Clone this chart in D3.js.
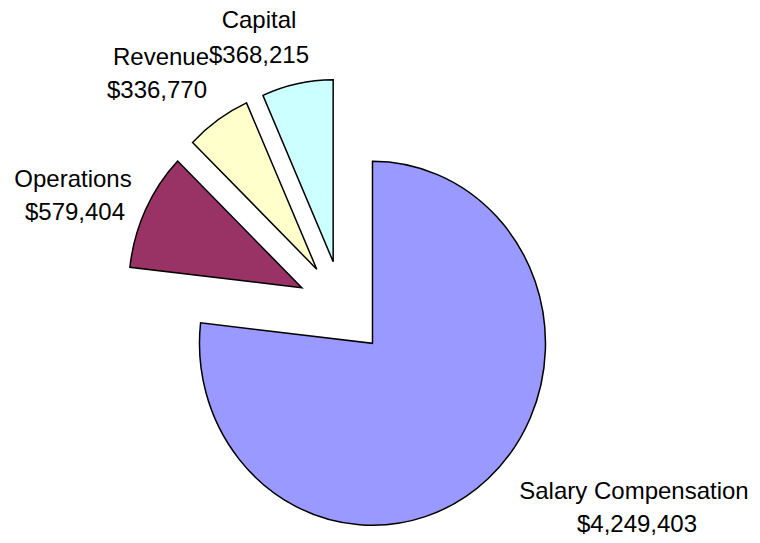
<!DOCTYPE html>
<html>
<head>
<meta charset="utf-8">
<script src="https://cdn.jsdelivr.net/npm/d3@7"></script>
<style>
    body { margin: 0; background: #fff; }
    text { font-family: Arial, "Liberation Sans", sans-serif; font-size: 24px; fill: #000; }
</style>
</head>
<body>
<svg id="chart" width="760" height="543"></svg>
<script>
// chart data
const categories = ["Salary Compensation", "Operations", "Revenue", "Capital"]
const amounts = [4249403, 579404, 336770, 368215]
const colors = ["#9999FF", "#993366", "#FFFFCC", "#CCFFFF"]

// label boxes (centre x of each line, first baseline), placed like the original
const labelPos = {
    "Salary Compensation": [[634, 499], [637, 532]],
    "Operations": [[73, 187], [75, 220]],
    "Revenue": [[161, 65], [157, 98]],
    "Capital": [[259, 28], [259, 63]]
}

const cx = 342.5, cy = 308
const rx = 173, ry = 182
const explode = 45

const svg = d3.select("#chart")

const rows = categories.map((c, i) => ({name: c, value: amounts[i], color: colors[i]}))

const pie = d3.pie()
    .sort(null)
    .value(d => d.value)

const arc = d3.arc()
    .innerRadius(0)
    .outerRadius(rx)

const money = d3.format("$,")

let pieGroup = svg.append("g")
    .attr("transform", "translate(" + cx + "," + cy + ") scale(1," + (ry / rx) + ")")

pieGroup.selectAll("path")
    .data(pie(rows))
    .join("path")
    .attr("d", arc)
    .attr("fill", d => d.data.color)
    .attr("stroke", "#000")
    .attr("stroke-width", 1.5)
    .attr("stroke-linejoin", "miter")
    .attr("vector-effect", "non-scaling-stroke")
    .attr("transform", d => {
        let mid = (d.startAngle + d.endAngle) / 2
        return "translate(" + (explode * Math.sin(mid)) + "," + (-explode * Math.cos(mid)) + ")"
    })

let labels = svg.selectAll("text.lbl")
    .data(rows)
    .join("text")
    .attr("class", "lbl")
    .attr("text-anchor", "middle")

labels.append("tspan")
    .attr("x", d => labelPos[d.name][0][0])
    .attr("y", d => labelPos[d.name][0][1])
    .text(d => d.name)

labels.append("tspan")
    .attr("x", d => labelPos[d.name][1][0])
    .attr("y", d => labelPos[d.name][1][1])
    .text(d => money(d.value))
</script>
</body>
</html>
